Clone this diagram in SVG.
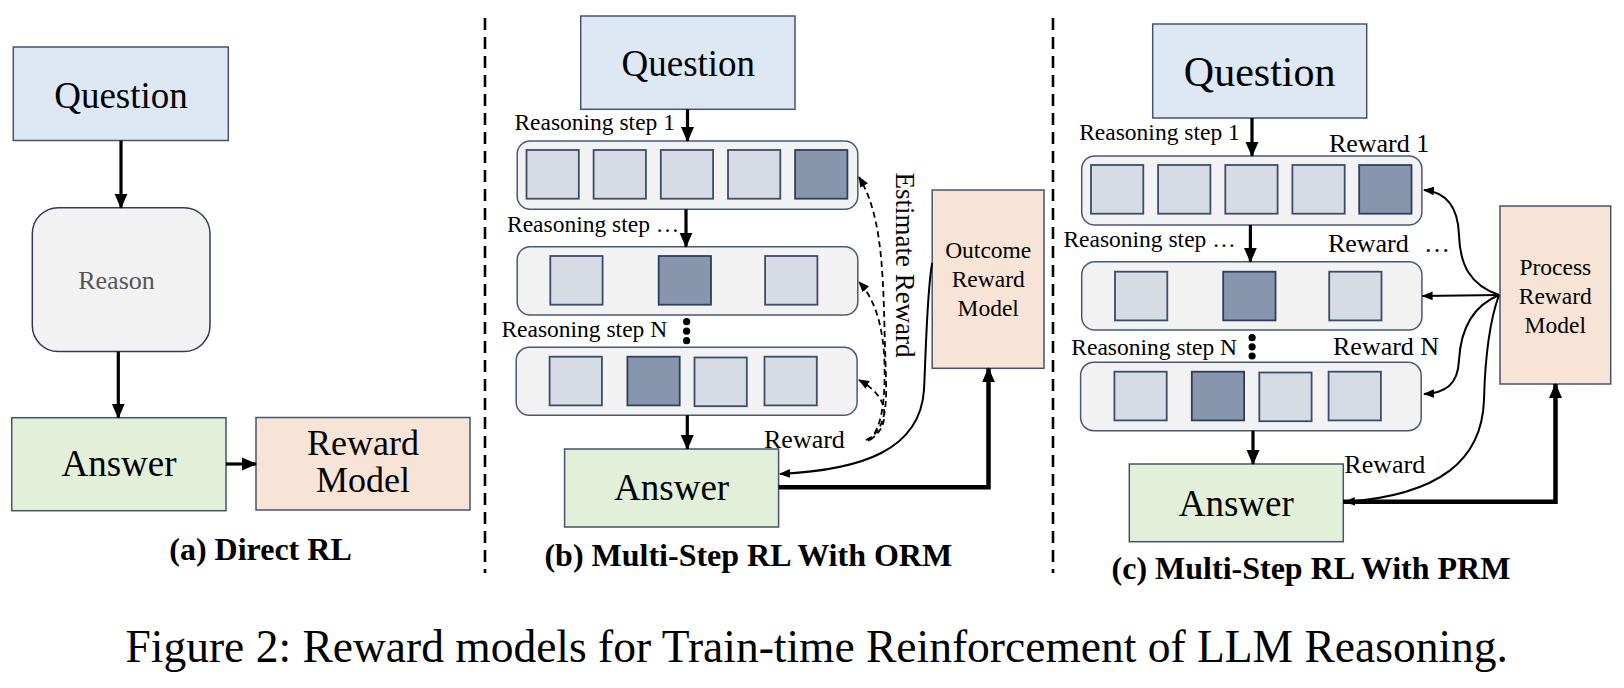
<svg xmlns="http://www.w3.org/2000/svg" width="1624" height="688" viewBox="0 0 1624 688">
<defs>
<style>
text{font-family:"Liberation Serif","Times New Roman",serif;fill:#000}
.box{stroke:#46536f;stroke-width:1.5}
.q{fill:#dee8f4}
.ans{fill:#e2efd9}
.rm{fill:#f7e4d6}
.cont{fill:#f2f2f2;stroke:#4a5878;stroke-width:1.5}
.sq{fill:#d6dbe4;stroke:#3c4c6c;stroke-width:1.8}
.sqd{fill:#8796ad;stroke:#2f3e5e;stroke-width:1.8}
.arr{fill:none;stroke:#000;stroke-width:3.2;marker-end:url(#ah)}
.thick{fill:none;stroke:#000;stroke-width:4.5;marker-end:url(#ah)}
.cur{fill:none;stroke:#000;stroke-width:2;marker-end:url(#ahs)}
.dash{fill:none;stroke:#000;stroke-width:1.8;stroke-dasharray:6 4;marker-end:url(#ahs)}
.sep{stroke:#000;stroke-width:2.6;stroke-dasharray:12 7}
.lbl{font-size:23.5px}
.big{font-size:37px}
.cap{font-size:32px;font-weight:bold}
.mid{text-anchor:middle}
</style>
<marker id="ah" markerUnits="userSpaceOnUse" markerWidth="16" markerHeight="16" refX="14" refY="8" orient="auto"><path d="M0,1.5 L15,8 L0,14.5 z" fill="#000"/></marker>
<marker id="ahs" markerUnits="userSpaceOnUse" markerWidth="12" markerHeight="10" refX="10" refY="5" orient="auto"><path d="M0,0.6 L11,5 L0,9.4 z" fill="#000"/></marker>
</defs>
<rect x="0" y="0" width="1624" height="688" fill="#fff"/>

<g id="separators">
<line class="sep" x1="485" y1="18" x2="485" y2="573"/>
<line class="sep" x1="1053" y1="18" x2="1053" y2="573"/>
</g>

<!-- Panel (a) -->
<g id="a-question"><rect class="box q" x="13.3" y="47" width="215" height="93.5"/><text class="big mid" x="121" y="107.8">Question</text></g>
<g id="a-reason"><rect x="32.3" y="207.7" width="177.7" height="143.9" rx="26" fill="#f2f2f2" stroke="#2c3a57" stroke-width="1.5"/><text class="mid" x="116.5" y="288.6" style="font-size:26px;fill:#555">Reason</text></g>
<g id="a-answer"><rect class="box ans" x="11.7" y="417.7" width="214.3" height="93"/><text class="big mid" x="119" y="476">Answer</text></g>
<g id="a-reward"><rect class="box rm" x="256" y="417.5" width="214" height="92.5"/><text class="mid" x="363" y="455" style="font-size:36px">Reward</text><text class="mid" x="363" y="491.7" style="font-size:36px">Model</text></g>

<!-- Panel (b) -->
<g id="b-question"><rect class="box q" x="580.7" y="16" width="214.3" height="93.3"/><text class="big mid" x="688.3" y="76">Question</text></g>
<g id="b-step1">
<rect class="cont" x="517.2" y="141" width="340.6" height="68.3" rx="13"/>
<rect class="sq" x="526.5" y="150" width="52.3" height="48.7"/>
<rect class="sq" x="593.6" y="150" width="52.3" height="48.7"/>
<rect class="sq" x="660.8" y="150" width="52.3" height="48.7"/>
<rect class="sq" x="728" y="150" width="52.3" height="48.7"/>
<rect class="sqd" x="795.1" y="150" width="52.3" height="48.7"/>
</g>
<g id="b-step2">
<rect class="cont" x="517.2" y="246.7" width="340.6" height="68.3" rx="13"/>
<rect class="sq" x="550.3" y="256" width="52.3" height="48.7"/>
<rect class="sqd" x="658.7" y="256" width="52.3" height="48.7"/>
<rect class="sq" x="765.1" y="256" width="52.3" height="48.7"/>
</g>
<g id="b-stepN">
<rect class="cont" x="516.2" y="347.3" width="340.9" height="68" rx="13"/>
<rect class="sq" x="549.6" y="356.7" width="52.3" height="48.7"/>
<rect class="sqd" x="627.4" y="356.7" width="52.3" height="48.7"/>
<rect class="sq" x="694.5" y="357.5" width="52.3" height="48.7"/>
<rect class="sq" x="764.5" y="356.7" width="52.3" height="48.7"/>
</g>
<g id="b-answer"><rect class="box ans" x="564.6" y="449" width="214" height="78"/><text class="big mid" x="671.6" y="500">Answer</text></g>
<g id="b-orm"><rect class="box rm" x="932.2" y="190" width="111.8" height="178.3"/>
<text class="lbl mid" x="988.2" y="258.3">Outcome</text><text class="lbl mid" x="988.2" y="286.7">Reward</text><text class="lbl mid" x="988.2" y="316">Model</text></g>

<!-- Panel (c) -->
<g id="c-question"><rect class="box q" x="1152.7" y="24" width="214" height="94"/><text class="mid" x="1259.7" y="86" style="font-size:42px">Question</text></g>
<g id="c-step1">
<rect class="cont" x="1081.7" y="156" width="340.2" height="69" rx="13"/>
<rect class="sq" x="1091" y="165" width="52.3" height="48.7"/>
<rect class="sq" x="1158.1" y="165" width="52.3" height="48.7"/>
<rect class="sq" x="1225.3" y="165" width="52.3" height="48.7"/>
<rect class="sq" x="1292.4" y="165" width="52.3" height="48.7"/>
<rect class="sqd" x="1359.2" y="165" width="52.3" height="48.7"/>
</g>
<g id="c-step2">
<rect class="cont" x="1081.7" y="261.7" width="340.2" height="68.3" rx="13"/>
<rect class="sq" x="1115" y="271.7" width="52.3" height="48.7"/>
<rect class="sqd" x="1223.2" y="271.7" width="52.3" height="48.7"/>
<rect class="sq" x="1329.2" y="271.7" width="52.3" height="48.7"/>
</g>
<g id="c-stepN">
<rect class="cont" x="1080.6" y="362.3" width="340.6" height="68.4" rx="13"/>
<rect class="sq" x="1114.4" y="371.7" width="52.3" height="48.7"/>
<rect class="sqd" x="1191.8" y="371.7" width="52.3" height="48.7"/>
<rect class="sq" x="1259.3" y="372.5" width="52.3" height="48.7"/>
<rect class="sq" x="1328.6" y="371.7" width="52.3" height="48.7"/>
</g>
<g id="c-answer"><rect class="box ans" x="1129.3" y="464" width="214" height="77.7"/><text class="big mid" x="1236.3" y="516">Answer</text></g>
<g id="c-prm"><rect class="box rm" x="1500" y="206" width="110.7" height="178"/>
<text class="lbl mid" x="1555.3" y="275">Process</text><text class="lbl mid" x="1555.3" y="304">Reward</text><text class="lbl mid" x="1555.3" y="333.3">Model</text></g>

<g id="connectors">
<path class="arr" d="M121,140.5 L121,207.7"/>
<path class="arr" d="M118.3,351.6 L118.3,417.7"/>
<path class="arr" d="M226,464 L256,464"/>

<path class="arr" d="M687.5,109.3 L687.5,141"/>
<path class="arr" d="M686,209.3 L686,246.7"/>
<path class="arr" d="M687.3,415.3 L687.3,449"/>
<path class="thick" d="M778.6,487.3 L988.5,487.3 L988.5,368.3"/>
<path class="cur" d="M932.2,263 C927,290 926,350 924,390 C920,450 862,470 780,474"/>
<path class="dash" d="M866,440 C884,432 887,410 886,380 L884.6,333 C883,260 880,212 859,177"/>
<path class="dash" d="M868,441 C882,430 885,400 884.6,367 C884,330 876,300 859,282"/>
<path class="dash" d="M870,440 C882,432 887,420 883,405 C879,393 868,385 859,380"/>

<path class="arr" d="M1252,118 L1252,156"/>
<path class="arr" d="M1250.4,225 L1250.4,261.7"/>
<path class="arr" d="M1253,430.7 L1253,464"/>
<path class="thick" d="M1343.2,501.7 L1555.5,501.7 L1555.5,384"/>
<path class="cur" d="M1499,295 C1470,285 1460,265 1459,235 C1458,205 1445,192 1424,190"/>
<path class="cur" d="M1499,295 L1422.6,296"/>
<path class="cur" d="M1499,295 C1475,305 1461,325 1459,360 C1458,385 1445,393 1424,394"/>
<path class="cur" d="M1499,295 C1490,320 1485,360 1484,400 C1482,460 1440,495 1345,502"/>
</g>

<g id="labels">
<text class="lbl" x="514.4" y="130">Reasoning step 1</text>
<text class="lbl" x="507" y="231.7">Reasoning step …</text>
<text class="lbl" x="501.4" y="337.3">Reasoning step N</text>
<circle cx="686.6" cy="321.7" r="3.6"/><circle cx="686.6" cy="331.2" r="3.6"/><circle cx="686.6" cy="340.7" r="3.6"/>
<text style="font-size:26px" x="764" y="448.3">Reward</text>
<text class="mid" style="font-size:27px" transform="translate(896,265) rotate(90)" x="0" y="0">Estimate Reward</text>

<text class="lbl" x="1079.2" y="140">Reasoning step 1</text>
<text class="lbl" x="1063.4" y="246.7">Reasoning step …</text>
<text class="lbl" x="1071.3" y="355">Reasoning step N</text>
<circle cx="1252.1" cy="337.7" r="3.6"/><circle cx="1252.1" cy="346.8" r="3.6"/><circle cx="1252.1" cy="356" r="3.6"/>
<text style="font-size:26px" x="1328.9" y="151.7">Reward 1</text>
<text style="font-size:26px" x="1327.9" y="251.7">Reward<tspan x="1424">…</tspan></text>
<text style="font-size:26px" x="1333" y="355">Reward N</text>
<text style="font-size:26px" x="1344.3" y="472.7">Reward</text>
</g>

<g id="captions">
<text class="cap mid" x="260.5" y="560">(a) Direct RL</text>
<text class="cap mid" x="748.3" y="566">(b) Multi-Step RL With ORM</text>
<text class="cap mid" x="1311" y="579">(c) Multi-Step RL With PRM</text>
<text class="mid" x="816.7" y="662" style="font-size:45.5px">Figure 2: Reward models for Train-time Reinforcement of LLM Reasoning.</text>
</g>
</svg>
